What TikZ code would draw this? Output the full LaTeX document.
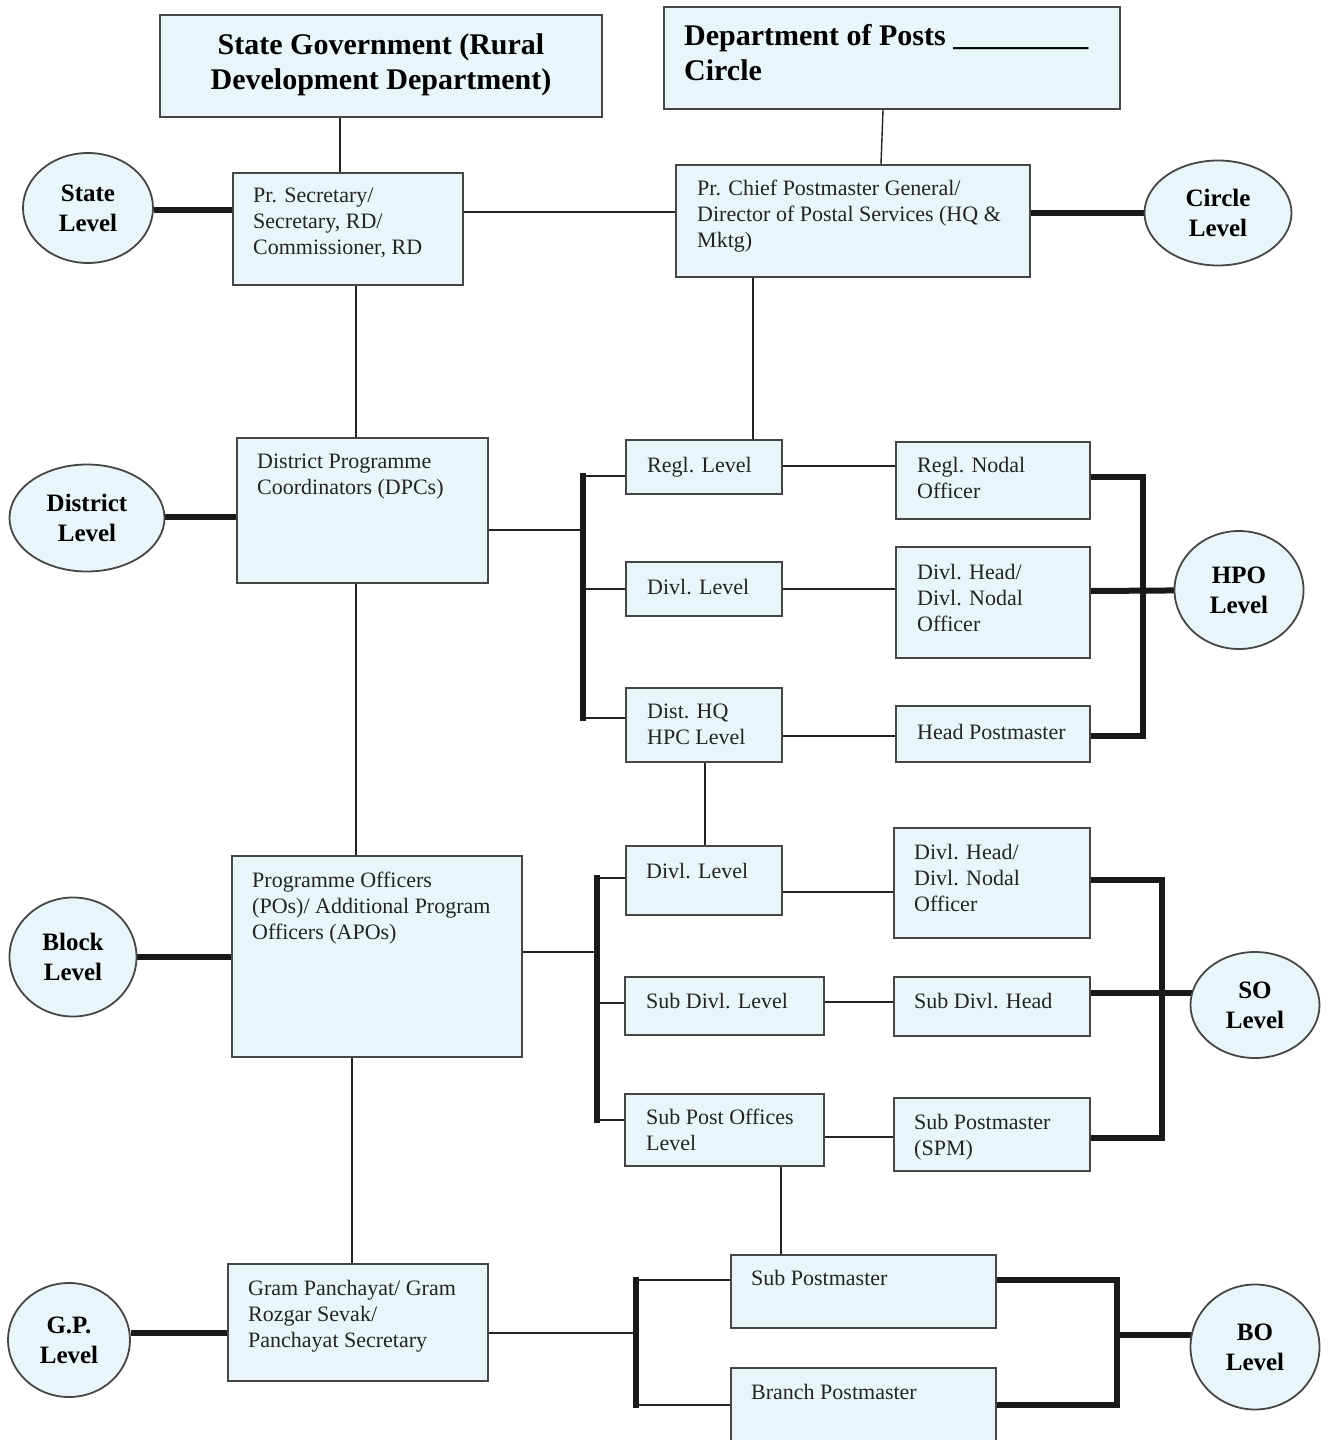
\documentclass[tikz,border=0pt]{standalone}
\usepackage{fontspec}
\setmainfont{Liberation Serif}
\usetikzlibrary{shapes.geometric}
\pgfdeclarelayer{bg}
\pgfsetlayers{bg,main}
\definecolor{boxfill}{RGB}{232,246,250}
\definecolor{edgecol}{RGB}{70,70,70}
\definecolor{inkcol}{RGB}{35,35,35}
\begin{document}
\begin{tikzpicture}[x=1pt,y=-1pt,
  box/.style={draw=edgecol, line width=1.8pt, fill=boxfill, rectangle, inner sep=0pt},
  txt/.style={anchor=north west, inner sep=0pt, align=left, text=inkcol, font=\fontsize{22}{26}\selectfont},
  ttl/.style={inner sep=0pt, text=black, font=\bfseries\fontsize{30}{35}\selectfont},
  lvl/.style={draw=edgecol, line width=1.8pt, fill=boxfill, ellipse, inner sep=0pt, align=center, text=black, font=\bfseries\fontsize{25}{30}\selectfont},
  thinline/.style={line width=1.4pt, draw=inkcol},
  thickline/.style={line width=6pt, draw=black!90, line join=miter},
]
\useasboundingbox (0,0) rectangle (1332,1440);

% ---- boxes ----
\node[box, minimum width=442pt, minimum height=102pt] (sg) at (381,66) {};
\node[box, minimum width=456pt, minimum height=102pt] (dop) at (892,58) {};
\node[box, minimum width=230pt, minimum height=112pt] (prsec) at (348,229) {};
\node[box, minimum width=354pt, minimum height=112pt] (pcpmg) at (853,221) {};
\node[box, minimum width=251pt, minimum height=145pt] (dpc) at (362.5,510.5) {};
\node[box, minimum width=156pt, minimum height=54pt] (regl) at (704,467) {};
\node[box, minimum width=156pt, minimum height=54pt] (divla) at (704,589) {};
\node[box, minimum width=156pt, minimum height=74pt] (disthq) at (704,725) {};
\node[box, minimum width=194pt, minimum height=77pt] (rno) at (993,480.5) {};
\node[box, minimum width=194pt, minimum height=111pt] (dha) at (993,602.5) {};
\node[box, minimum width=194pt, minimum height=56pt] (hpm) at (993,734) {};
\node[box, minimum width=290pt, minimum height=201pt] (po) at (377,956.5) {};
\node[box, minimum width=156pt, minimum height=69pt] (divlb) at (704,880.5) {};
\node[box, minimum width=199pt, minimum height=58pt] (subdivl) at (724.5,1006) {};
\node[box, minimum width=199pt, minimum height=72pt] (spo) at (724.5,1130) {};
\node[box, minimum width=196pt, minimum height=110pt] (dhb) at (992,883) {};
\node[box, minimum width=196pt, minimum height=59pt] (sdh) at (992,1006.5) {};
\node[box, minimum width=196pt, minimum height=73pt] (spm) at (992,1134.5) {};
\node[box, minimum width=260pt, minimum height=117pt] (gp) at (358,1322.5) {};
\node[box, minimum width=265pt, minimum height=73pt] (spmb) at (863.5,1291.5) {};
\node[box, minimum width=265pt, minimum height=82pt] (bpm) at (863.5,1409) {};

% ---- level ellipses ----
\node[lvl, minimum width=130pt, minimum height=110pt] (state) at (88,208) {State\\Level};
\node[lvl, minimum width=147pt, minimum height=105pt] (circle) at (1218,213) {Circle\\Level};
\node[lvl, minimum width=155pt, minimum height=107pt] (district) at (87,518) {District\\Level};
\node[lvl, minimum width=129pt, minimum height=118pt] (hpo) at (1239,590) {HPO\\Level};
\node[lvl, minimum width=127pt, minimum height=119pt] (block) at (73,957) {Block\\Level};
\node[lvl, minimum width=129pt, minimum height=106pt] (so) at (1255,1005) {SO\\Level};
\node[lvl, minimum width=122pt, minimum height=114pt] (gplvl) at (69,1340) {G.P.\\Level};
\node[lvl, minimum width=129pt, minimum height=125pt] (bo) at (1255,1347) {BO\\Level};

% ---- texts ----
\node[ttl, anchor=north, align=center] (sg-t) at (381,33) {State Government (Rural\\Development Department)};
\node[ttl, anchor=north west, align=left] (dop-t) at (684,24) {Department of Posts \_\_\_\_\_\_\_\_\_\\Circle};
\node[txt] (prsec-t) at (253,188) {Pr. Secretary/\\Secretary, RD/\\Commissioner, RD};
\node[txt] (pcpmg-t) at (697,180) {Pr. Chief Postmaster General/\\Director of Postal Services (HQ \&\\Mktg)};
\node[txt] (dpc-t) at (257,454) {District Programme\\Coordinators (DPCs)};
\node[txt] (regl-t) at (647,457) {Regl. Level};
\node[txt] (divla-t) at (647,579) {Divl. Level};
\node[txt] (disthq-t) at (647,704) {Dist. HQ\\HPC Level};
\node[txt] (rno-t) at (917,457) {Regl. Nodal\\Officer};
\node[txt] (dha-t) at (917,564) {Divl. Head/\\Divl. Nodal\\Officer};
\node[txt] (hpm-t) at (917,724) {Head Postmaster};
\node[txt] (po-t) at (252,872) {Programme Officers\\(POs)/ Additional Program\\Officers (APOs)};
\node[txt] (divlb-t) at (646,863) {Divl. Level};
\node[txt] (subdivl-t) at (646,993) {Sub Divl. Level};
\node[txt] (spo-t) at (646,1109) {Sub Post Offices\\Level};
\node[txt] (dhb-t) at (914,844) {Divl. Head/\\Divl. Nodal\\Officer};
\node[txt] (sdh-t) at (914,993) {Sub Divl. Head};
\node[txt] (spm-t) at (914,1114) {Sub Postmaster\\(SPM)};
\node[txt] (gp-t) at (248,1280) {Gram Panchayat/ Gram\\Rozgar Sevak/\\Panchayat Secretary};
\node[txt] (spmb-t) at (751,1270) {Sub Postmaster};
\node[txt] (bpm-t) at (751,1384) {Branch Postmaster};

% ---- bus coordinates ----
\coordinate (ba-t) at (583,476);
\coordinate (ba-m) at (583,530);
\coordinate (ba-b) at (583,718);
\coordinate (bb-t) at (597,878);
\coordinate (bb-m) at (597,952);
\coordinate (bb-b) at (597,1120);
\coordinate (bc-t) at (636,1280);
\coordinate (bc-m) at (636,1333);
\coordinate (bc-b) at (636,1405);
\coordinate (ra-t) at (1143,477);
\coordinate (ra-m) at (1143,591);
\coordinate (ra-b) at (1143,736);
\coordinate (rb-t) at (1162,880);
\coordinate (rb-m) at (1162,993);
\coordinate (rb-b) at (1162,1138);
\coordinate (rc-t) at (1117,1280);
\coordinate (rc-m) at (1117,1335);
\coordinate (rc-b) at (1117,1405);

\begin{pgfonlayer}{bg}
\fill[white] (0,0) rectangle (1332,1440);
% thin vertical links
\draw[thinline] (sg.south -| 340,0) -- (prsec.north -| 340,0);
\draw[thinline] (dop.south -| 883,0) -- (pcpmg.north -| 881,0);
\draw[thinline] (prsec.south -| 356,0) -- (dpc.north -| 356,0);
\draw[thinline] (pcpmg.south -| 753,0) -- (regl.north -| 753,0);
\draw[thinline] (dpc.south -| 356,0) -- (po.north -| 356,0);
\draw[thinline] (disthq.south -| 705,0) -- (divlb.north -| 705,0);
\draw[thinline] (po.south -| 352,0) -- (gp.north -| 352,0);
\draw[thinline] (spo.south -| 781,0) -- (spmb.north -| 781,0);
% thin horizontal links
\draw[thinline] (prsec.east |- 0,212) -- (pcpmg.west |- 0,212);
\draw[thinline] (dpc.east |- ba-m) -- (ba-m);
\draw[thinline] (ba-t) -- (regl.west |- ba-t);
\draw[thinline] (ba-m |- divla.west) -- (divla.west);
\draw[thinline] (ba-b) -- (disthq.west |- ba-b);
\draw[thinline] (regl.east |- 0,466) -- (rno.west |- 0,466);
\draw[thinline] (divla.east) -- (dha.west |- divla.east);
\draw[thinline] (disthq.east |- 0,736) -- (hpm.west |- 0,736);
\draw[thinline] (po.east |- bb-m) -- (bb-m);
\draw[thinline] (bb-t) -- (divlb.west |- bb-t);
\draw[thinline] (bb-m |- 0,1003) -- (subdivl.west |- 0,1003);
\draw[thinline] (bb-b) -- (spo.west |- bb-b);
\draw[thinline] (divlb.east |- 0,892) -- (dhb.west |- 0,892);
\draw[thinline] (subdivl.east |- 0,1002) -- (sdh.west |- 0,1002);
\draw[thinline] (spo.east |- 0,1137) -- (spm.west |- 0,1137);
\draw[thinline] (gp.east |- bc-m) -- (bc-m);
\draw[thinline] (bc-t) -- (spmb.west |- bc-t);
\draw[thinline] (bc-b) -- (bpm.west |- bc-b);
% thick level links
\draw[thickline] (state.east |- 0,210) -- (prsec.west |- 0,210);
\draw[thickline] (pcpmg.east |- 0,213) -- (circle.west |- 0,213);
\draw[thickline] (district.east |- 0,517) -- (dpc.west |- 0,517);
\draw[thickline] (block.east) -- (po.west |- block.east);
\draw[thickline] (gplvl.east |- 0,1333) -- (gp.west |- 0,1333);
% left buses
\draw[thickline, line cap=rect] (ba-t) -- (ba-b);
\draw[thickline, line cap=rect] (bb-t) -- (bb-b);
\draw[thickline, line cap=rect] (bc-t) -- (bc-b);
% right buses
\draw[thickline] (rno.east |- ra-t) -- (ra-t) -- (ra-b) -- (hpm.east |- ra-b);
\draw[thickline] (dha.east |- ra-m) -- (hpo.center);
\draw[thickline] (dhb.east |- rb-t) -- (rb-t) -- (rb-b) -- (spm.east |- rb-b);
\draw[thickline] (sdh.east |- rb-m) -- (so.west |- rb-m) -- ++(10,0);
\draw[thickline] (spmb.east |- rc-t) -- (rc-t) -- (rc-b) -- (bpm.east |- rc-b);
\draw[thickline] (rc-m) -- (bo.west |- rc-m) -- ++(10,0);
\end{pgfonlayer}
\end{tikzpicture}
\end{document}
